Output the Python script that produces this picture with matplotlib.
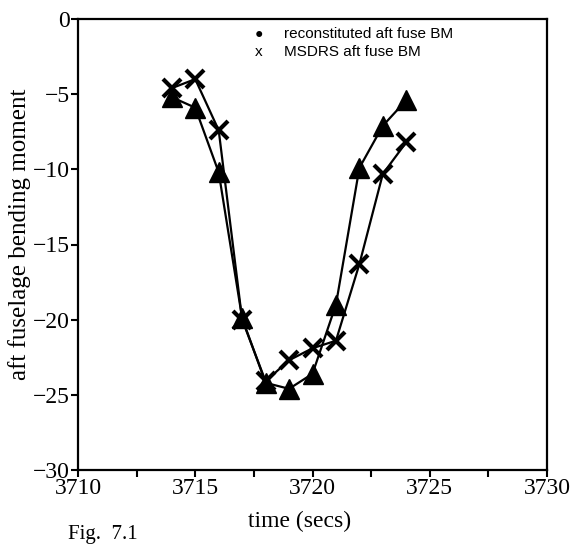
import numpy as np
import matplotlib.pyplot as plt

# time in seconds
t = [3714, 3715, 3716, 3717, 3718, 3719, 3720, 3721, 3722, 3723, 3724]

# reconstituted aft fuselage bending moment (triangles)
recon = [-5.2, -5.9, -10.2, -19.9, -24.2, -24.6, -23.6, -19.0, -9.9, -7.1, -5.4]

# MSDRS aft fuselage bending moment (crosses)
msdrs = [-4.6, -4.0, -7.4, -20.0, -24.1, -22.7, -21.9, -21.4, -16.3, -10.3, -8.2]

xticks = [3710, 3715, 3720, 3725, 3730]
yticks = [0, -5, -10, -15, -20, -25, -30]

plt.rcParams['font.family'] = ['Liberation Serif', 'DejaVu Serif']

fig = plt.figure(figsize=(5.73, 5.46), dpi=100)
ax = fig.add_axes([78 / 573, 1 - 470 / 546, (547 - 78) / 573, (470 - 19) / 546])

ax.plot(t, recon, color='black', lw=1.6, marker='^', ms=14, mec='black', mfc='black')
ax.plot(t, msdrs, color='black', lw=1.6, marker='x', ms=13, mew=3)

ax.set_xlim(3710, 3730)
ax.set_ylim(-30, 0)
ax.set_xticks(xticks)
ax.set_xticks(np.arange(3710, 3730, 2.5), minor=True)
ax.set_yticks(yticks)
ax.set_yticklabels(['0', '\u22125', '\u221210', '\u221215', '\u221220', '\u221225', '\u221230'])
ax.tick_params(direction='out', labelsize=17, width=1.5, length=5, pad=1)
ax.tick_params(which='minor', direction='out', width=1.5, length=5)
for s in ax.spines.values():
    s.set_linewidth(1.6)

ax.set_xlabel('time (secs)', fontsize=17)
ax.xaxis.set_label_coords(0.473, -0.09)
ax.set_ylabel('aft fuselage bending moment', fontsize=18)
ax.yaxis.set_label_coords(-0.1, 0.523)

# legend written as text like the original
sans = ['Liberation Sans', 'DejaVu Sans']
fig.text(259 / 573, 1 - 34 / 546, '\u25cf', fontsize=10, family=sans, va='center', ha='center')
fig.text(284 / 573, 1 - 34 / 546, 'reconstituted aft fuse BM', fontsize=11, family=sans, va='center')
fig.text(259 / 573, 1 - 52 / 546, 'x', fontsize=11, family=sans, va='center', ha='center')
fig.text(284 / 573, 1 - 52 / 546, 'MSDRS aft fuse BM', fontsize=11, family=sans, va='center')

fig.text(68 / 573, 2 / 546, 'Fig.  7.1', fontsize=15, va='bottom')

fig.savefig('out.png', dpi=100)
plt.close()
